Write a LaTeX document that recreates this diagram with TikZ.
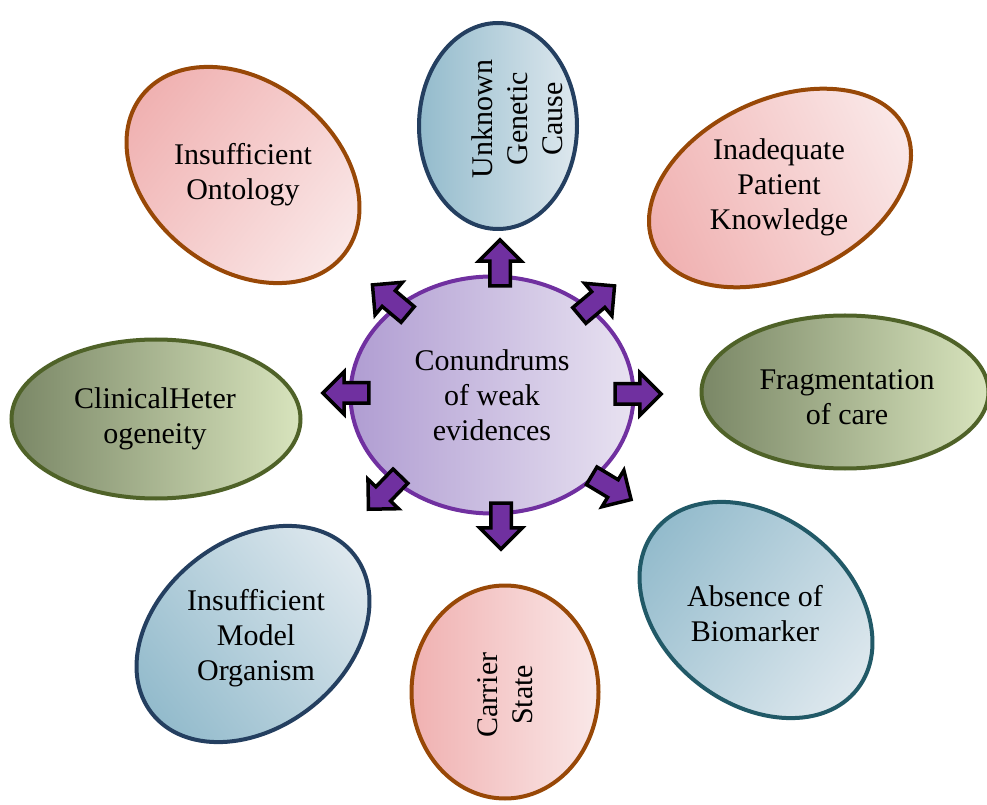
\documentclass[tikz,border=0pt]{standalone}
\usepackage{fontspec}
\setmainfont{Liberation Serif}
\usetikzlibrary{shapes.geometric,shapes.arrows}
\definecolor{corepurple}{HTML}{7030A0}
\definecolor{coreL}{HTML}{B09DD2}
\definecolor{coreR}{HTML}{E8E2F1}
\definecolor{navy}{HTML}{243F60}
\definecolor{teal}{HTML}{215967}
\definecolor{blueL}{HTML}{93BBCC}
\definecolor{blueR}{HTML}{DEE8EE}
\definecolor{brown}{HTML}{984807}
\definecolor{pinkL}{HTML}{F0B1B1}
\definecolor{pinkR}{HTML}{FAE8E8}
\definecolor{olive}{HTML}{4F6228}
\definecolor{greenL}{HTML}{7A8766}
\definecolor{greenR}{HTML}{D8E4BD}

\begin{document}
\begin{tikzpicture}[x=1pt,y=1pt,
    blob/.style={ellipse, line width=4pt, inner sep=0pt},
    lbl/.style={align=center, font=\fontsize{30}{35}\selectfont},
    outarr/.style={single arrow, draw=black, fill=corepurple, line width=3.5pt,
        inner xsep=0pt, inner ysep=8.5pt, single arrow head extend=11pt,
        minimum height=46pt, outer sep=0pt}]
        \useasboundingbox (0,0) rectangle (987,804);

        % outer ellipses
        \node[blob, draw=navy, left color=blueL, right color=blueR, minimum width=158pt, minimum height=206pt] (ugc) at (498, 678) {};
        \node[blob, draw=brown, left color=pinkL, right color=pinkR, shading angle=115, minimum width=277pt, minimum height=177pt, rotate=25] (ipk) at (780, 616) {};
        \node[blob, draw=olive, left color=greenL, right color=greenR, minimum width=287pt, minimum height=153pt] (foc) at (845, 412) {};
        \node[blob, draw=teal, left color=blueL, right color=blueR, shading angle=52, minimum width=257pt, minimum height=187pt, rotate=-38] (aob) at (756, 194) {};
        \node[blob, draw=brown, left color=pinkL, right color=pinkR, minimum width=187pt, minimum height=213pt] (cs) at (505, 112) {};
        \node[blob, draw=navy, left color=blueL, right color=blueR, shading angle=128, minimum width=257pt, minimum height=187pt, rotate=38] (imo) at (253, 170) {};
        \node[blob, draw=olive, left color=greenL, right color=greenR, minimum width=289pt, minimum height=159pt] (ch) at (156, 385) {};
        \node[blob, draw=brown, left color=pinkL, right color=pinkR, shading angle=52, minimum width=257pt, minimum height=187pt, rotate=-38] (io) at (243, 629) {};

        \node[lbl, rotate=90] (ugc-t) at (517, 685) {Unknown\\Genetic\\Cause};
        \node[lbl] (ipk-t) at (779, 617) {Inadequate\\Patient\\Knowledge};
        \node[lbl] (foc-t) at (847, 407) {Fragmentation\\of care};
        \node[lbl] (aob-t) at (755, 190) {Absence of\\Biomarker};
        \node[lbl, rotate=90] (cs-t) at (505, 109) {Carrier\\State};
        \node[lbl] (imo-t) at (256, 166) {Insufficient\\Model\\Organism};
        \node[lbl] (ch-t) at (155, 385) {ClinicalHeter\\ogeneity};
        \node[lbl] (io-t) at (243, 629) {Insufficient\\Ontology};

        % centre
        \node[blob, lbl, draw=corepurple, left color=coreL, right color=coreR, minimum width=283pt, minimum height=237pt] (core) at (492, 409) {Conundrums\\of weak\\evidences};

        \node[outarr, rotate=90] (arN) at (500, 536) {};
        \node[outarr, rotate=40] (arNE) at (593, 500) {};
        \node[outarr, rotate=0] (arE) at (633, 410) {};
        \node[outarr, rotate=-31] (arSE) at (607, 319) {};
        \node[outarr, rotate=-90] (arS) at (501, 283) {};
        \node[outarr, rotate=-134] (arSW) at (388, 315) {};
        \node[outarr, rotate=180] (arW) at (351, 411) {};
        \node[outarr, rotate=140] (arNW) at (394, 501) {};

    \end{tikzpicture}
\end{document}
